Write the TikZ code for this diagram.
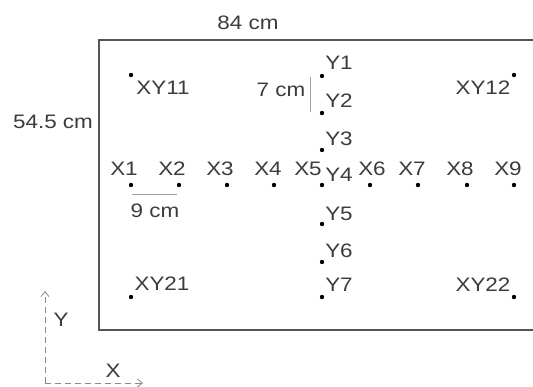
\documentclass[tikz,border=0pt]{standalone}
\usepackage{fontspec}
\setmainfont{Liberation Sans}
\usetikzlibrary{arrows.meta}
\definecolor{txt}{HTML}{3C3C3C}
\definecolor{frame}{HTML}{555555}
\definecolor{axis}{HTML}{8A8A8A}
\begin{document}
\begin{tikzpicture}[x=1pt,y=-1pt,
  lbl/.style={inner sep=0pt,text=txt,font=\fontsize{19.5}{21}\selectfont,xscale=1.15,anchor=center},
  pt/.style={circle,fill=black,inner sep=0pt,minimum size=4.4pt},
  dimline/.style={draw=axis!80,line width=1pt},
  axisline/.style={draw=axis,line width=0.8pt,dash pattern=on 6pt off 4pt}]
\useasboundingbox (0,0) rectangle (533,387);
\fill[white] (0,0) rectangle (533,387);
% frame (right side lies beyond the picture)
\draw[frame,line width=1.8pt] (540,40) -- (99,40) -- (99,330) -- (540,330);
\node[lbl] (w) at (248,23) {84 cm};
\node[lbl] (h) at (53,122) {54.5 cm};
% X row
\foreach \i/\x in {1/131,2/179,3/227,4/274,5/322,6/370,7/418,8/467,9/514}
  \node[pt] (X\i) at (\x,185) {};
\node[lbl] (lX1) at (124,169) {X1};
\node[lbl] (lX2) at (172,169) {X2};
\node[lbl] (lX3) at (220,169) {X3};
\node[lbl] (lX4) at (268,169) {X4};
\node[lbl] (lX5) at (308,169) {X5};
\node[lbl] (lX6) at (372,169) {X6};
\node[lbl] (lX7) at (412,169) {X7};
\node[lbl] (lX8) at (460,169) {X8};
\node[lbl] (lX9) at (508,169) {X9};
% Y column
\foreach \i/\y in {1/76,2/113,3/150,5/224,6/262,7/297}
  \node[pt] (Y\i) at (322,\y) {};
\node[lbl] (lY1) at (339,63) {Y1};
\node[lbl] (lY2) at (339,101) {Y2};
\node[lbl] (lY3) at (339,139) {Y3};
\node[lbl] (lY4) at (339,175) {Y4};
\node[lbl] (lY5) at (339,214) {Y5};
\node[lbl] (lY6) at (339,251) {Y6};
\node[lbl] (lY7) at (339,285) {Y7};
% corner points
\node[pt] (XY11) at (131,75) {};
\node[pt] (XY12) at (514,75) {};
\node[pt] (XY21) at (131,297) {};
\node[pt] (XY22) at (514,297) {};
\node[lbl] (lXY11) at (163,88) {XY11};
\node[lbl] (lXY12) at (483,88) {XY12};
\node[lbl] (lXY21) at (162,284) {XY21};
\node[lbl] (lXY22) at (483,285) {XY22};
% dimension marks
\coordinate (s7a) at (310,77);
\coordinate (s7b) at (310,112);
\draw[dimline] (s7a) -- (s7b);
\node[lbl] (d7) at (281,90) {7 cm};
\coordinate (s9a) at (132,195);
\coordinate (s9b) at (177,195);
\draw[dimline] (s9a) -- (s9b);
\node[lbl] (d9) at (155,211) {9 cm};
% axes
\coordinate (O) at (45,383);
\coordinate (Ay) at (45,291);
\coordinate (Ax) at (143,383);
\draw[axisline,-{Straight Barb[length=5pt,width=8pt]}] (O) -- (Ay);
\draw[axisline,-{Straight Barb[length=5pt,width=8pt]}] (O) -- (Ax);
\node[lbl] (aY) at (61,320) {Y};
\node[lbl] (aX) at (113,371) {X};
\end{tikzpicture}
\end{document}
